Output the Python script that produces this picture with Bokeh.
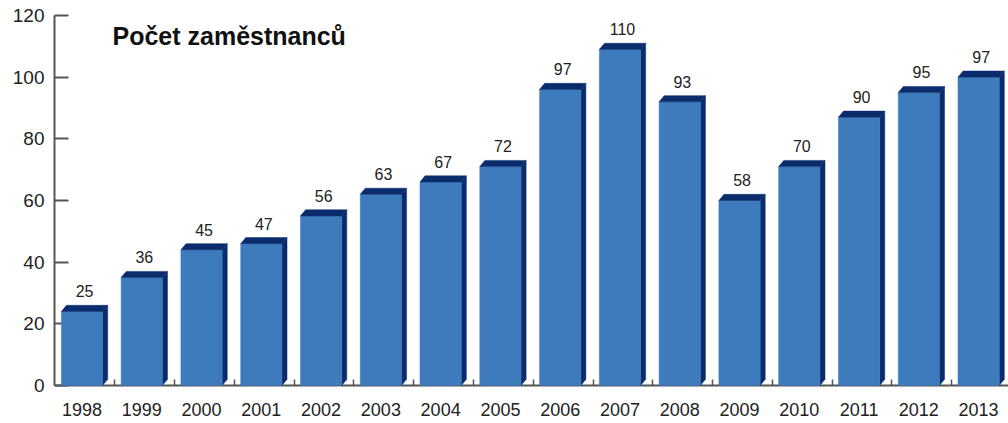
from bokeh.plotting import figure
from bokeh.models import ColumnDataSource, FixedTicker, Range1d, Label
from bokeh.core.properties import value
from bokeh.embed import file_html
from bokeh.resources import INLINE

years = [1998, 1999, 2000, 2001, 2002, 2003, 2004, 2005,
         2006, 2007, 2008, 2009, 2010, 2011, 2012, 2013]
# bar heights as drawn in the picture
heights = [25, 36, 45, 47, 56, 63, 67, 72, 97, 110, 93, 61, 72, 88, 96, 101]
# value labels printed above the bars
labels = ["25", "36", "45", "47", "56", "63", "67", "72",
          "97", "110", "93", "58", "70", "90", "95", "97"]
y_ticks = [0, 20, 40, 60, 80, 100, 120]
title_text = "Počet zaměstnanců"

FRONT = "#3e7bbd"
DARK = "#0a2c6c"
AXIS = "#555555"
FONT = "Liberation Sans"

bw = 0.69     # bar width (years)
dx = 0.085    # depth offset x (years)
dy = 2.0      # depth offset y (value units)

front_xs, front_ys, top_xs, top_ys, side_xs, side_ys = [], [], [], [], [], []
for x, h in zip(years, heights):
    l, r = x - bw / 2, x + bw / 2
    ft = h - dy / 2
    bt = h + dy / 2
    front_xs.append([l, r, r, l]); front_ys.append([0, 0, ft, ft])
    top_xs.append([l, r, r + dx, l + dx]); top_ys.append([ft, ft, bt, bt])
    side_xs.append([r, r + dx, r + dx, r]); side_ys.append([0, dy, bt, ft])

p = figure(width=1008, height=423, output_backend="svg", toolbar_location=None,
           x_range=Range1d(1997.54, 2013.50), y_range=Range1d(0, 120),
           min_border_left=54, min_border_right=0, min_border_top=15,
           min_border_bottom=38, background_fill_color="white",
           border_fill_color="white")
p.outline_line_color = None
p.grid.visible = False

r1 = p.patches(xs=side_xs, ys=side_ys, fill_color=DARK, line_color=DARK, line_width=0.5)
r2 = p.patches(xs=front_xs, ys=front_ys, fill_color=FRONT, line_color=FRONT, line_width=0.5)
r3 = p.patches(xs=top_xs, ys=top_ys, fill_color=DARK, line_color=DARK, line_width=0.5)
for r in (r1, r2, r3):
    r.level = "annotation"

src = ColumnDataSource(dict(x=[y + dx / 2 for y in years],
                            y=[h + dy / 2 for h in heights], t=labels))
tr = p.text(x="x", y="y", text="t", source=src, text_align="center",
            text_baseline="bottom", y_offset=-8, text_font=value(FONT),
            text_font_size="16px", text_color="#222222")
tr.level = "annotation"

p.add_layout(Label(x=1998.51, y=113.5, text=title_text, text_font=FONT,
                   text_font_size="25px", text_font_style="bold",
                   text_color="#111111", text_baseline="alphabetic"))

# y axis
ya = p.yaxis[0]
ya.ticker = FixedTicker(ticks=y_ticks)
ya.major_tick_in = 14
ya.major_tick_out = 0
ya.minor_tick_line_color = None
ya.axis_line_color = AXIS
ya.axis_line_width = 2
ya.major_tick_line_color = AXIS
ya.major_tick_line_width = 2
ya.major_label_standoff = 10
ya.major_label_text_font = FONT
ya.major_label_text_font_size = "19px"
ya.major_label_text_color = "#222222"

# x axis
xa = p.xaxis[0]
xa.ticker = FixedTicker(ticks=years, minor_ticks=[y + 0.55 for y in years[:-1]])
xa.major_tick_in = 0
xa.major_tick_out = 0
xa.minor_tick_in = 6
xa.minor_tick_out = 0
xa.minor_tick_line_color = AXIS
xa.minor_tick_line_width = 1.5
xa.axis_line_color = AXIS
xa.axis_line_width = 2
xa.major_label_standoff = 17
xa.major_label_text_font = FONT
xa.major_label_text_font_size = "18px"
xa.major_label_text_color = "#222222"

open("out.html", "w").write(file_html(p, INLINE))
